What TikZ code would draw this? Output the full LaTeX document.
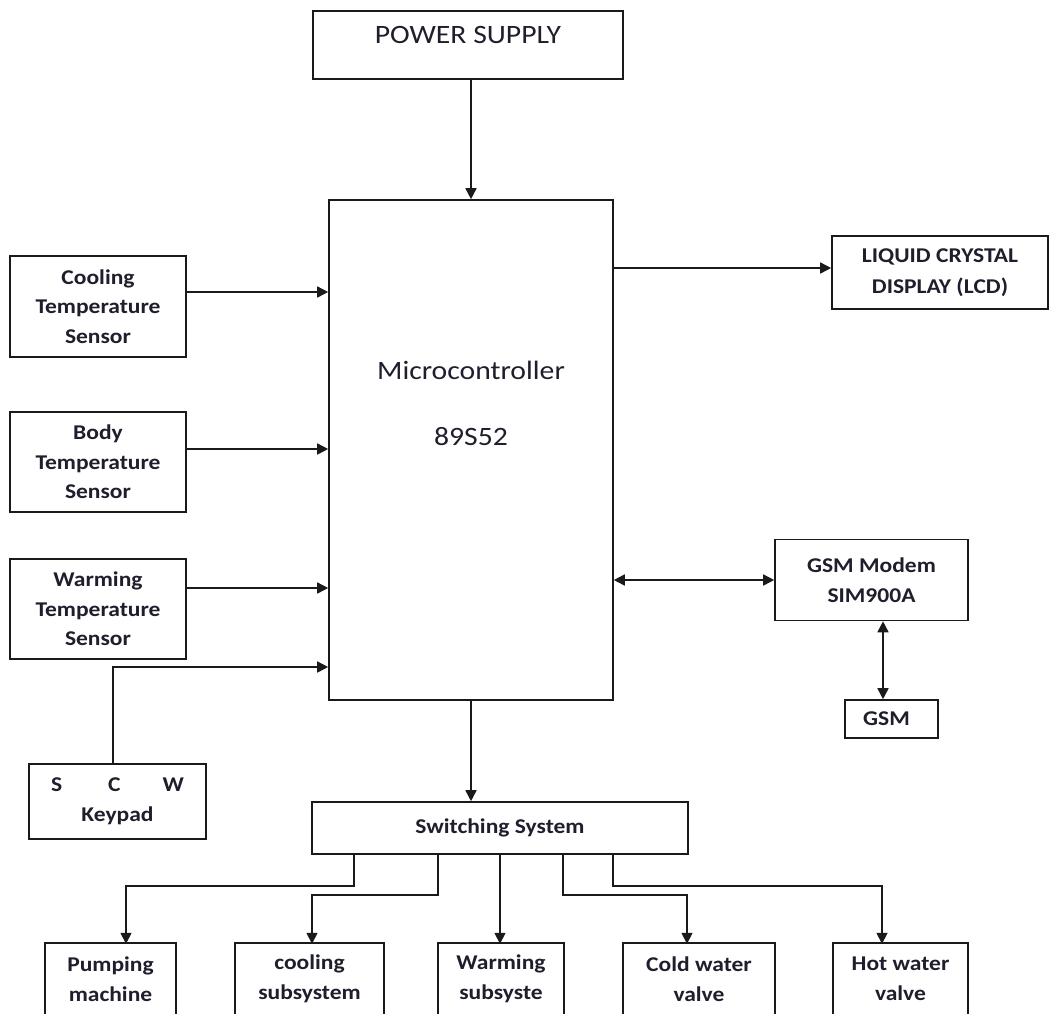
\documentclass[tikz,border=0pt]{standalone}
\usepackage{fontspec}
\setmainfont{Carlito}[FakeStretch=1.12]
\usetikzlibrary{arrows.meta}
\definecolor{txtc}{HTML}{1E1E2C}
\definecolor{linec}{HTML}{1A1A1A}
\begin{document}
\begin{tikzpicture}[x=1pt,y=-1pt,
  box/.style={draw=linec, line width=1.6pt, rectangle, inner sep=0pt, align=center, text=txtc},
  sm/.style={font=\bfseries\fontsize{21}{29.5}\selectfont},
  bot/.style={sm, rectangle, inner sep=0pt, align=center, text=txtc, minimum height=70pt},
  boxline/.style={draw=linec, line width=1.6pt},
  arr/.style={draw=linec, line width=1.6pt, -{Triangle[length=11pt,width=11pt]}},
  darr/.style={draw=linec, line width=1.6pt, {Triangle[length=11pt,width=11pt]}-{Triangle[length=11pt,width=11pt]}}
]
\useasboundingbox (0,0) rectangle (1050,1013);

% main blocks
\node[box, minimum width=310pt, minimum height=68pt,
  label={[font=\fontsize{26.5}{32}\selectfont, text=txtc, yshift=10pt]center:POWER SUPPLY}]
  (power) at (468,45) {};
\node[box, minimum width=284pt, minimum height=500pt,
  label={[align=center, font=\fontsize{26.5}{66}\selectfont, text=txtc, yshift=47pt]center:Microcontroller\\89S52}]
  (micro) at (471,450) {};

% sensors
\node[box, sm, minimum width=176pt, minimum height=101pt] (cool) at (98,306.5) {Cooling\\Temperature\\Sensor};
\node[box, sm, minimum width=176pt, minimum height=100pt] (body) at (98,462) {Body\\Temperature\\Sensor};
\node[box, sm, minimum width=176pt, minimum height=100pt] (warm) at (98,609) {Warming\\Temperature\\Sensor};
\node[box, sm, minimum width=177pt, minimum height=75pt] (keypad) at (117.5,801.5) {S\hspace{46pt}C\hspace{42pt}W\\Keypad};

% right side
\node[box, sm, minimum width=216pt, minimum height=73pt, font=\bfseries\fontsize{21}{31}\selectfont] (lcd) at (940,272.5) {LIQUID CRYSTAL\\DISPLAY (LCD)};
\node[box, sm, minimum width=193pt, minimum height=81pt] (modem) at (871.5,580) {GSM Modem\\SIM900A};
\node[box, sm, minimum width=93pt, minimum height=38pt] (gsm) at (891.5,719) {GSM\hspace{10pt}};

% switching
\node[box, sm, minimum width=376pt, minimum height=52pt] (sw) at (500,828) {Switching System};

% bottom blocks (cut at the lower edge)
\node[bot, minimum width=131pt] (pump) at (110.5,979) {Pumping\\machine};
\node[bot, minimum width=149pt] (coolsub) at (309.5,979) {cooling\\subsystem};
\node[bot, minimum width=126pt] (warmsub) at (501,979) {Warming\\subsyste};
\node[bot, minimum width=152pt] (cold) at (699,979) {Cold water\\valve};
\node[bot, minimum width=135pt] (hot) at (900.5,979) {Hot water\\valve};
\foreach \n in {pump,coolsub,warmsub,cold,hot}
  \draw[boxline] ([yshift=-2pt]\n.south west) -- ([yshift=1pt]\n.north west) -- ([yshift=1pt]\n.north east) -- ([yshift=-2pt]\n.south east);

% connectors
\draw[arr] (power.south -| micro.north) -- (micro.north);
\draw[arr] (cool.east |- 0,292) -- (micro.west |- 0,292);
\draw[arr] (body.east |- 0,449) -- (micro.west |- 0,449);
\draw[arr] (warm.east |- 0,588) -- (micro.west |- 0,588);
\draw[arr] (keypad.north -| 113,0) |- (micro.west |- 0,667);
\draw[arr] (micro.east |- 0,268) -- (lcd.west |- 0,268);
\draw[darr] (micro.east |- 0,580) -- (modem.west |- 0,580);
\draw[darr] (modem.south -| 883,0) -- (gsm.north -| 883,0);
\draw[arr] (micro.south) -- (micro.south |- sw.north);

\draw[arr] (sw.south -| 354,0) |- (126,886) -- (pump.north -| 126,0);
\draw[arr] (sw.south -| 438,0) |- (312,895) -- (coolsub.north -| 312,0);
\draw[arr] (sw.south -| 500,0) -- (warmsub.north -| 500,0);
\draw[arr] (sw.south -| 563,0) |- (687,895) -- (cold.north -| 687,0);
\draw[arr] (sw.south -| 613,0) |- (882,886) -- (hot.north -| 882,0);
\end{tikzpicture}
\end{document}
